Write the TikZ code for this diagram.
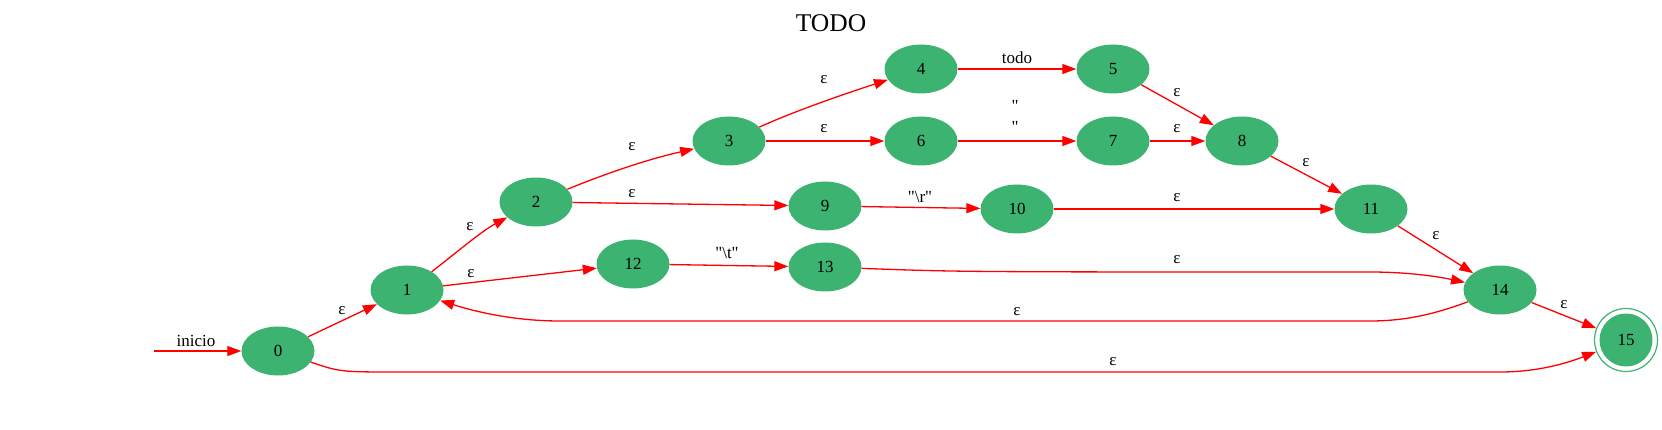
\documentclass[tikz,border=0pt]{standalone}
\usepackage{fontspec}
\setmainfont{Liberation Serif}[Ligatures=TeXOff]
\usetikzlibrary{arrows.meta,shapes.geometric}
\definecolor{ngreen}{RGB}{60,179,113}
\begin{document}
\begin{tikzpicture}[x=1pt,y=-1pt,
  state/.style={ellipse, fill=ngreen, minimum width=73pt, minimum height=49pt, inner sep=0pt, font=\fontsize{17}{20}\selectfont},
  edge/.style={draw=red, line width=1.3pt, -{Triangle[length=14pt,width=10pt]}},
  lbl/.style={font=\fontsize{17}{21}\selectfont, inner sep=0pt, align=center}]
\useasboundingbox (0,0) rectangle (1662,430);
\node[font=\fontsize{25.5}{30}\selectfont, inner sep=0pt] (title) at (831,23) {TODO};

\coordinate (start) at (154,351);
\node[state] (n0) at (278,351) {0};
\node[state] (n1) at (407,290) {1};
\node[state] (n2) at (536,202) {2};
\node[state] (n3) at (729,141) {3};
\node[state] (n4) at (921,69) {4};
\node[state] (n5) at (1113,69) {5};
\node[state] (n6) at (921,141) {6};
\node[state] (n7) at (1113,141) {7};
\node[state] (n8) at (1242,141) {8};
\node[state] (n9) at (825,206) {9};
\node[state] (n10) at (1017,209) {10};
\node[state] (n11) at (1371,209) {11};
\node[state] (n12) at (633,264) {12};
\node[state] (n13) at (825,267) {13};
\node[state] (n14) at (1500,290) {14};
\node[circle, draw=ngreen, line width=1.2pt, minimum size=63pt, inner sep=0pt] (n15) at (1626,340) {};
\node[circle, fill=ngreen, minimum size=53pt, inner sep=0pt, font=\fontsize{17}{20}\selectfont] (n15in) at (n15.center) {15};

\draw[edge] (start) -- (n0);
\draw[edge] (n0) -- (n1);
\draw[edge] (n0) .. controls (340,372) .. (400,372) -- (1500,372) .. controls (1540,372) and (1570,362) .. (n15);
\draw[edge] (n1) .. controls (450,258) and (480,232) .. (n2);
\draw[edge] (n1) -- (n12);
\draw[edge] (n2) .. controls (595,178) and (640,161) .. (n3);
\draw[edge] (n2) -- (n9);
\draw[edge] (n3) .. controls (788,114) and (832,98) .. (n4);
\draw[edge] (n3) -- (n6);
\draw[edge] (n4) -- (n5);
\draw[edge] (n5) -- (n8);
\draw[edge] (n6) -- (n7);
\draw[edge] (n7) -- (n8);
\draw[edge] (n8) -- (n11);
\draw[edge] (n9) -- (n10);
\draw[edge] (n10) -- (n11);
\draw[edge] (n11) -- (n14);
\draw[edge] (n12) -- (n13);
\draw[edge] (n13) .. controls (960,272) .. (1370,272) .. controls (1410,272) and (1440,277) .. (n14);
\draw[edge] (n14) .. controls (1440,312) and (1410,321) .. (1370,321) -- (560,321) .. controls (510,321) and (470,310) .. (n1);
\draw[edge] (n14) -- (n15);

\node[lbl] (lstart) at (196,341) {inicio};
\node[lbl] (l01) at (342,311) {ε};
\node[lbl] (l12) at (470,227) {ε};
\node[lbl] (l112) at (471,274) {ε};
\node[lbl] (l23) at (632,147) {ε};
\node[lbl] (l29) at (632,194) {ε};
\node[lbl] (l34) at (824,80) {ε};
\node[lbl] (l36) at (824,129) {ε};
\node[lbl] (l45) at (1017,58) {todo};
\node[lbl] (l58) at (1177,93) {ε};
\node[lbl] (l67) at (1015,116) {"\\"};
\node[lbl] (l78) at (1177,129) {ε};
\node[lbl] (l811) at (1306,163) {ε};
\node[lbl] (l910) at (920,197) {"\textbackslash r"};
\node[lbl] (l1011) at (1177,198) {ε};
\node[lbl] (l1114) at (1436,236) {ε};
\node[lbl] (l1213) at (727,253) {"\textbackslash t"};
\node[lbl] (l1314) at (1177,260) {ε};
\node[lbl] (l141) at (1017,312) {ε};
\node[lbl] (l1415) at (1564,305) {ε};
\node[lbl] (l015) at (1113,362) {ε};
\end{tikzpicture}
\end{document}
